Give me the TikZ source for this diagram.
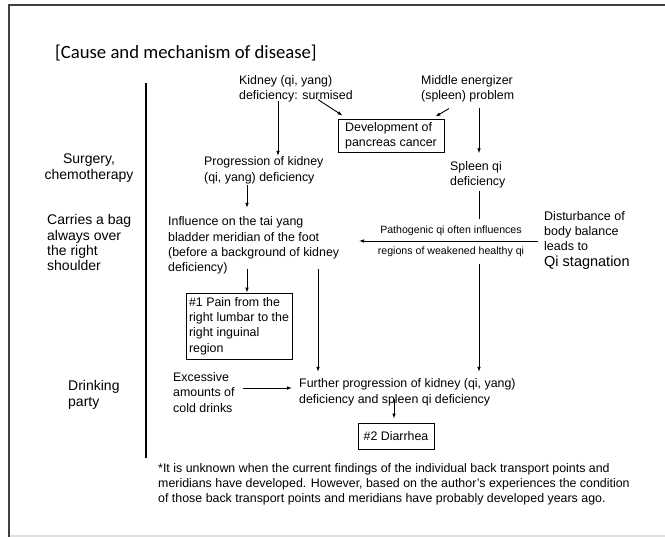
\documentclass[tikz,border=0pt]{standalone}
\usepackage{fontspec}
\setmainfont{Liberation Sans}
\newfontfamily\titlefont{Carlito}
\usetikzlibrary{arrows.meta}
\begin{document}
\begin{tikzpicture}[x=1pt,y=-1pt,
  txt/.style={inner sep=0pt, align=left, font=\fontsize{12.4}{15.3}\selectfont},
  lcol/.style={inner sep=0pt, font=\fontsize{14}{15.3}\selectfont},
  arr/.style={-{Latex[length=5pt,width=3.6pt]}, line width=0.9pt},
  boxed/.style={draw, line width=0.9pt, txt},
]
\useasboundingbox (0,0) rectangle (665,537);
% frame
\draw[line width=2pt, black!75] (9,537) -- (9,5) -- (665,5);
\draw[line width=1.5pt, black!12] (10,536) -- (665,536);
% title
\node[anchor=base west, inner sep=0pt, font=\titlefont\fontsize{18.7}{22}\selectfont] (title) at (55,59) {[Cause and mechanism of disease]};
% divider
\draw[line width=1.5pt] (146,83) -- (146,458);
% left column
\node[lcol, anchor=north, align=center] (surg) at (89,153.9) {Surgery,\\chemotherapy};
\node[lcol, anchor=north west, align=left] (bag) at (47,214.5) {Carries a bag\\always over\\the right\\shoulder};
\node[lcol, anchor=north west, align=left] (drink) at (68,380.5) {Drinking\\party};
% main nodes
\node[txt, anchor=north west] (kidney) at (239,75.3) {Kidney (qi, yang)\\deficiency: surmised};
\node[txt, anchor=north west] (middle) at (421,75.3) {Middle energizer\\(spleen) problem};
\node[boxed, minimum width=106pt, minimum height=33pt] (cancer) at (391,135.5) {Development of\\pancreas cancer};
\node[txt, anchor=north west] (prog) at (204,156.8) {Progression of kidney\\(qi, yang) deficiency};
\node[txt, anchor=north west] (spleen) at (450,161.3) {Spleen qi\\deficiency};
\node[txt, anchor=north west] (infl) at (168,216.8) {Influence on the tai yang\\bladder meridian of the foot\\(before a background of kidney\\deficiency)};
\node[txt, anchor=north west, font=\fontsize{12.5}{15}\selectfont] (dist) at (544,211.3) {Disturbance of\\body balance\\leads to\\[1pt]{\fontsize{14.5}{16}\selectfont Qi stagnation}};
\node[boxed, minimum width=106pt, minimum height=66pt, inner sep=0pt] (pain) at (239,326) {\#1 Pain from the\\right lumbar to the\\right inguinal\\region};
\node[txt, anchor=north west] (cold) at (173,372.3) {Excessive\\amounts of\\cold drinks};
\node[txt, anchor=north west] (further) at (299,378.8) {Further progression of kidney (qi, yang)\\deficiency and spleen qi deficiency};
\node[boxed, minimum width=76pt, minimum height=26pt] (diar) at (396,436) {\#2 Diarrhea};
\node[txt, anchor=north west, font=\fontsize{12.4}{15}\selectfont] (note) at (158,463.3) {*It is unknown when the current findings of the individual back transport points and\\meridians have developed. However, based on the author's experiences the condition\\of those back transport points and meridians have probably developed years ago.};
% connectors
\draw[arr] ([yshift=2pt]kidney.south -| 278,0) -- ([yshift=1pt]prog.north -| 278,0);
\draw[arr] ([yshift=3pt]kidney.south -| 318,0) -- ([xshift=5pt,yshift=3pt]cancer.north west);
\draw[arr] ([yshift=-6pt]middle.south -| 449,0) -- ([xshift=-9pt,yshift=2pt]cancer.north east);
\draw[arr] ([yshift=-5pt]middle.south -| 479,0) -- ([yshift=8pt]spleen.north -| 479,0);
\draw[arr] ([yshift=-1pt]prog.south -| 247,0) -- ([yshift=9pt]infl.north -| 247,0);
\draw[arr] ([yshift=-2pt]spleen.south -| 479,0) -- ([yshift=7pt]further.north -| 479,0);
% label over the vertical line
\node[fill=white, inner xsep=0pt, inner ysep=7pt, align=center, font=\fontsize{10.6}{21}\selectfont] (patho) at (451,241.5) {Pathogenic qi often influences\\regions of weakened healthy qi};
\draw[arr] ([xshift=-6pt]dist.west |- 0,241) -- (359,241) coordinate (inflR);
\draw[arr] ([yshift=6pt]infl.south -| 247,0) -- (pain.north -| 247,0);
\draw[arr] ([yshift=6pt]infl.south -| 318,0) -- ([yshift=7pt]further.north -| 318,0);
\draw[arr] ([xshift=8pt]cold.east |- 0,388) -- ([xshift=-7pt]further.west |- 0,388);
\draw[arr] ([yshift=7pt]further.south -| 394,0) -- ([yshift=4pt]diar.north -| 394,0);
\end{tikzpicture}
\end{document}
